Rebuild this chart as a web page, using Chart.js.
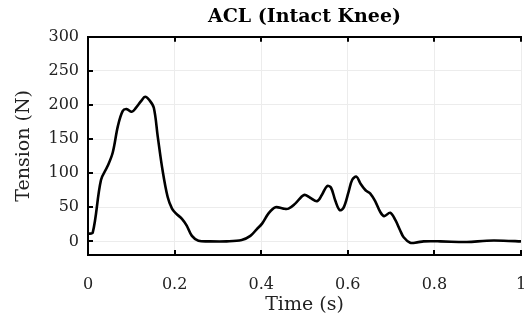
<!DOCTYPE html>
<html>
<head>
<meta charset="utf-8">
<script src="https://cdn.jsdelivr.net/npm/chart.js@4"></script>
<style>
  html, body { margin: 0; padding: 0; background: #fff; }
  #wrap { width: 524px; height: 320px; }
</style>
</head>
<body>
<div id="wrap"><canvas id="chart-acl" width="524" height="320"></canvas></div>
<script>
// ACL tension over time
const timeS = [0, 0.011, 0.030, 0.045, 0.057, 0.069, 0.080, 0.089, 0.101, 0.111, 0.123, 0.132,
    0.142, 0.152, 0.161, 0.172, 0.184, 0.194, 0.203, 0.217, 0.228, 0.240, 0.255, 0.282, 0.320,
    0.355, 0.375, 0.390, 0.402, 0.417, 0.433, 0.451, 0.463, 0.478, 0.499, 0.513, 0.529, 0.540,
    0.552, 0.561, 0.571, 0.581, 0.590, 0.602, 0.610, 0.620, 0.629, 0.641, 0.652, 0.664, 0.675,
    0.684, 0.698, 0.710, 0.721, 0.729, 0.744, 0.760, 0.775, 0.814, 0.875, 0.921, 0.960, 1.0];
const tensionN = [11, 13, 90, 110, 130, 169, 191, 194, 190, 196, 206, 212,
    207, 196, 154, 105, 65, 48, 41, 33, 23, 8, 1, 0, 0,
    2, 8, 18, 26, 41, 50, 48, 48, 55, 68, 64, 59, 68,
    81, 79, 60, 46, 49, 73, 90, 95, 85, 75, 70, 58, 43,
    37, 42, 31, 16, 6, -2, -1.5, 0, 0, -1, 1, 1, 0];

const xTicks = [0, 0.2, 0.4, 0.6, 0.8, 1];
const yTicks = [0, 50, 100, 150, 200, 250, 300];

const serif = "'DejaVu Serif', 'Liberation Serif', serif";
const ink   = '#000';

// inward tick marks on left, top and bottom edges
const innerTicks = {
    id: 'innerTicks',
    afterDatasetsDraw(chart) {
        const { ctx, chartArea: a, scales } = chart;
        ctx.save();
        ctx.strokeStyle = ink;
        ctx.lineWidth = 2;
        ctx.beginPath();
        for (const v of xTicks) {
            const px = Math.round(scales.x.getPixelForValue(v));
            ctx.moveTo(px, a.bottom); ctx.lineTo(px, a.bottom - 5);
            ctx.moveTo(px, a.top);    ctx.lineTo(px, a.top + 5);
        }
        for (const v of yTicks) {
            const py = Math.round(scales.y.getPixelForValue(v));
            ctx.moveTo(a.left, py); ctx.lineTo(a.left + 5, py);
        }
        ctx.stroke();
        ctx.restore();
    },
};

new Chart(document.getElementById('chart-acl'), {
    type: 'line',
    data: {
        datasets: [{
            label: 'ACL',
            data: timeS.map((t, i) => ({ x: t, y: tensionN[i] })),
            borderColor: ink,
            borderWidth: 2.6,
            pointRadius: 0,
            tension: 0.35,
            fill: false,
        }],
    },
    options: {
        responsive: false,
        animation: false,
        layout: { padding: { left: 0, right: 3, top: 0, bottom: 0 } },
        plugins: {
            legend: { display: false },
            tooltip: { enabled: false },
            title: {
                display: true,
                text: 'ACL (Intact Knee)',
                fullSize: false,
                color: ink,
                font: { family: serif, size: 19, weight: 'bold' },
                padding: { top: 6, bottom: 8 },
            },
        },
        scales: {
            x: {
                type: 'linear', min: 0, max: 1,
                afterBuildTicks: s => { s.ticks = xTicks.map(v => ({ value: v })); },
                afterFit: s => { s.height = 65; s.paddingRight = 0; s.paddingLeft = 0; },
                grid: { color: '#ececec', drawTicks: false },
                border: { color: ink, width: 2 },
                ticks: { color: '#222', padding: 20, font: { family: serif, size: 16 }, maxRotation: 0,
                         callback: v => String(v) },
                title: { display: true, text: 'Time (s)', color: '#222', font: { family: serif, size: 19 }, padding: { top: 0 } },
            },
            x2: {
                type: 'linear', position: 'top', min: 0, max: 1,
                afterFit: s => { s.height = 0; s.paddingRight = 0; s.paddingLeft = 0; },
                grid: { display: false, drawTicks: false },
                border: { color: ink, width: 2 },
                ticks: { display: false },
            },
            y: {
                min: -20, max: 300,
                afterBuildTicks: s => { s.ticks = yTicks.map(v => ({ value: v })); },
                afterFit: s => { s.width = 88; },
                grid: { color: '#ececec', drawTicks: false },
                border: { color: ink, width: 2 },
                ticks: { color: '#222', padding: 9, font: { family: serif, size: 16 } },
                title: { display: true, text: 'Tension (N)', color: '#222', font: { family: serif, size: 19 }, padding: { top: 13, bottom: 0 } },
            },
        },
    },
    plugins: [innerTicks],
});
</script>
</body>
</html>
